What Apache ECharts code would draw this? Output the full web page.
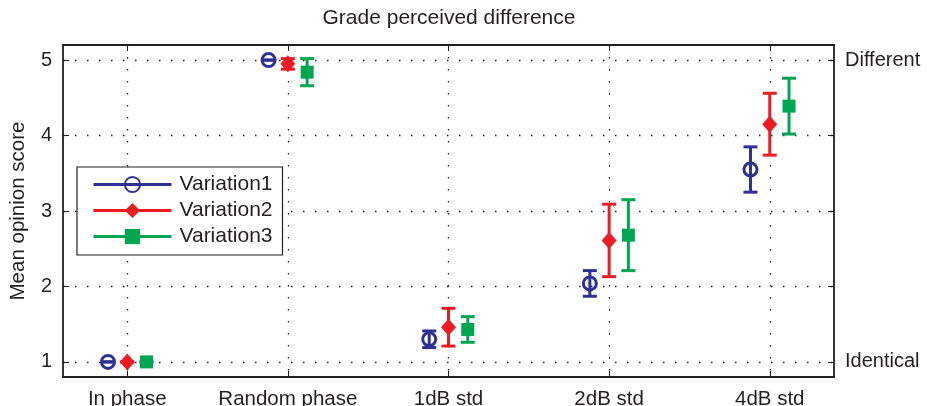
<!DOCTYPE html>
<html>
<head>
<meta charset="utf-8">
<script src="https://cdn.jsdelivr.net/npm/echarts@6/dist/echarts.min.js"></script>
<style>
  html, body { margin: 0; padding: 0; background: #fff; }
  #chart { width: 927px; height: 406px; }
</style>
</head>
<body>
<div id="chart"></div>
<script>
// Listening-test results: mean opinion score with error bars per condition
const categories = ['In phase', 'Random phase', '1dB std', '2dB std', '4dB std'];
const yTicks = [1, 2, 3, 4, 5];
const rightTickValues = [1, 5];
const rightTickLabels = ['Identical', 'Different'];
const seriesNames = ['Variation1', 'Variation2', 'Variation3'];

const v1Mean = [1.00, 5.00, 1.30, 2.04, 3.55];
const v1Err  = [0.00, 0.00, 0.11, 0.17, 0.30];
const v2Mean = [1.00, 4.95, 1.46, 2.61, 4.15];
const v2Err  = [0.00, 0.07, 0.25, 0.48, 0.41];
const v3Mean = [1.00, 4.84, 1.43, 2.68, 4.39];
const v3Err  = [0.00, 0.18, 0.17, 0.47, 0.37];

const means = [v1Mean, v2Mean, v3Mean];
const errs = [v1Err, v2Err, v3Err];
const colors = ['#2e3192', '#ed1c24', '#00a651'];
const offsets = [-0.12, 0, 0.12];
const symbols = ['circle', 'diamond', 'rect'];
const symbolSizes = [13, [15, 17], 13];
const symbolStyles = [
  { color: 'rgba(255,255,255,0)', borderColor: colors[0], borderWidth: 3 },
  { color: colors[1] },
  { color: colors[2] }
];

const FONT = 'Liberation Sans, Arial, Helvetica, sans-serif';
const INK = '#231f20';

// marker points (isolated, gaps keep them from joining)
function markerData(k) {
  const out = [];
  means[k].forEach(function (m, i) {
    if (i > 0) out.push('-');
    out.push([i + 1 + offsets[k], m]);
  });
  return out;
}

// error bar rows: [x, low, high]
function errorData(k) {
  return means[k].map(function (m, i) {
    return [i + 1 + offsets[k], m - errs[k][i], m + errs[k][i]];
  });
}

function renderErrorBar(color) {
  return function (params, api) {
    const x = api.value(0);
    const lo = api.coord([x, api.value(1)]);
    const hi = api.coord([x, api.value(2)]);
    const hw = 7;
    const style = { stroke: color, lineWidth: 3, fill: null };
    return {
      type: 'group',
      children: [
        { type: 'line', shape: { x1: hi[0], y1: hi[1], x2: lo[0], y2: lo[1] }, style: style },
        { type: 'line', shape: { x1: hi[0] - hw, y1: hi[1], x2: hi[0] + hw, y2: hi[1] }, style: style },
        { type: 'line', shape: { x1: lo[0] - hw, y1: lo[1], x2: lo[0] + hw, y2: lo[1] }, style: style }
      ]
    };
  };
}

const series = [];
seriesNames.forEach(function (name, k) {
  series.push({
    name: name,
    type: 'line',
    xAxisIndex: 0,
    yAxisIndex: 0,
    data: markerData(k),
    symbol: symbols[k],
    symbolSize: symbolSizes[k],
    showSymbol: true,
    lineStyle: { color: colors[k], width: 3 },
    itemStyle: symbolStyles[k],
    emphasis: { disabled: true },
    z: 4
  });
});
seriesNames.forEach(function (name, k) {
  series.push({
    name: name,
    type: 'custom',
    xAxisIndex: 0,
    yAxisIndex: 0,
    data: errorData(k),
    encode: { x: 0, y: [1, 2] },
    renderItem: renderErrorBar(colors[k]),
    z: 3
  });
});

const gridDots = { color: INK, width: 1.3, type: [1.5, 10.5] };

const option = {
  animation: false,
  backgroundColor: '#fff',
  title: {
    text: 'Grade perceived difference',
    left: 449,
    textAlign: 'center',
    top: 8,
    padding: 0,
    textStyle: { fontFamily: FONT, fontSize: 21, fontWeight: 'normal', color: INK }
  },
  legend: {
    data: seriesNames,
    orient: 'vertical',
    left: 77,
    top: 167,
    itemWidth: 78,
    itemHeight: 19,
    itemGap: 5,
    padding: [7, 10, 8, 15],
    borderColor: INK,
    borderWidth: 1.2,
    backgroundColor: '#fff',
    selectedMode: false,
    lineStyle: { width: 3 },
    textStyle: { fontFamily: FONT, fontSize: 21, color: INK, padding: [0, 0, 0, 3] }
  },
  grid: { left: 63, right: 93, top: 45, bottom: 29, containLabel: false, outerBoundsMode: 'none' },
  xAxis: [
    {
      type: 'value',
      position: 'bottom',
      min: 0.6,
      max: 5.4,
      axisLine: { show: true, lineStyle: { color: INK, width: 1.8 } },
      axisTick: { show: true, inside: true, length: 6, customValues: [1, 2, 3, 4, 5], lineStyle: { color: INK } },
      axisLabel: {
        customValues: [1, 2, 3, 4, 5],
        margin: 12,
        fontFamily: FONT, fontSize: 20.5, color: INK,
        formatter: function (v) { return categories[Math.round(v) - 1]; }
      },
      splitLine: { show: true, lineStyle: gridDots }
    },
    {
      type: 'value',
      position: 'top',
      min: 0.6,
      max: 5.4,
      axisLine: { show: true, lineStyle: { color: INK, width: 1.8 } },
      axisTick: { show: true, inside: true, length: 6, customValues: [1, 2, 3, 4, 5], lineStyle: { color: INK } },
      axisLabel: { show: false },
      splitLine: { show: false }
    }
  ],
  yAxis: [
    {
      type: 'value',
      position: 'left',
      min: 0.8,
      max: 5.2,
      name: 'Mean opinion score',
      nameLocation: 'middle',
      nameGap: 34,
      nameTextStyle: { fontFamily: FONT, fontSize: 20.5, color: INK },
      axisLine: { show: true, lineStyle: { color: INK, width: 1.8 } },
      axisTick: { show: true, inside: true, length: 6, customValues: yTicks, lineStyle: { color: INK } },
      axisLabel: { customValues: yTicks, margin: 11, fontFamily: FONT, fontSize: 20, color: INK },
      splitLine: { show: true, lineStyle: gridDots }
    },
    {
      type: 'value',
      position: 'right',
      min: 0.8,
      max: 5.2,
      axisLine: { show: true, lineStyle: { color: INK, width: 1.8 } },
      axisTick: { show: true, inside: true, length: 6, customValues: yTicks, lineStyle: { color: INK } },
      axisLabel: {
        customValues: rightTickValues,
        margin: 11,
        fontFamily: FONT, fontSize: 20, color: INK,
        formatter: function (v) {
          const i = rightTickValues.indexOf(Math.round(v));
          return i >= 0 ? rightTickLabels[i] : '';
        }
      },
      splitLine: { show: false }
    }
  ],
  series: series
};

const chart = echarts.init(document.getElementById('chart'), null, { renderer: 'canvas' });
chart.setOption(option);
</script>
</body>
</html>
